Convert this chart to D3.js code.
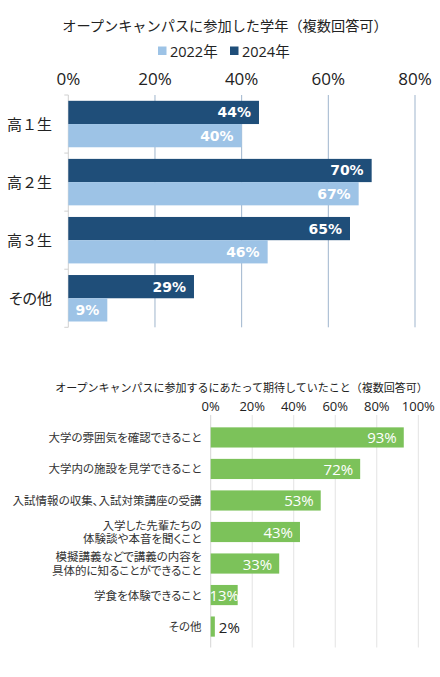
<!DOCTYPE html>
<html><head><meta charset="utf-8">
<script src="https://cdn.jsdelivr.net/npm/d3@7"></script>
<style>
body{margin:0;background:#fff;}
svg text{font-family:"Open Sans","Noto Sans CJK JP",sans-serif;}
.jp{font-feature-settings:"palt";}
</style></head>
<body>
<script>
// ---- Chart 1 data ----
const gradeCats = ["高１生", "高２生", "高３生", "その他"];
const seriesNames = ["2022年", "2024年"];
const values2022 = [40, 67, 46, 9];
const values2024 = [44, 70, 65, 29];
const ticks1 = [0, 20, 40, 60, 80];
const title1 = "オープンキャンパスに参加した学年（複数回答可）";

// ---- Chart 2 data ----
const expectCats = [
  ["大学の雰囲気を確認できること"],
  ["大学内の施設を見学できること"],
  ["入試情報の収集、入試対策講座の受講"],
  ["入学した先輩たちの", "体験談や本音を聞くこと"],
  ["模擬講義などで講義の内容を", "具体的に知ることができること"],
  ["学食を体験できること"],
  ["その他"]
];
const expectValues = [93, 72, 53, 43, 33, 13, 2];
const ticks2 = [0, 20, 40, 60, 80, 100];
const title2 = "オープンキャンパスに参加するにあたって期待していたこと（複数回答可）";

const W = 440, H = 677;
const svg = d3.select("body").append("svg").attr("width", W).attr("height", H);

const dark = "#1f4e79", light = "#9dc3e6", green = "#7cc25a";

// ===== Chart 1 =====
svg.append("text").attr("x", 225).attr("y", 25).attr("text-anchor","middle")
  .attr("dominant-baseline","central").attr("font-size", 14.2).attr("fill","#222").text(title1);

// legend
const legend = svg.append("g");
const legItems = [{name: seriesNames[0], color: light, x: 158}, {name: seriesNames[1], color: dark, x: 230}];
legItems.forEach(d => {
  legend.append("rect").attr("x", d.x).attr("y", 46.5).attr("width", 8.5).attr("height", 8.5).attr("fill", d.color);
  legend.append("text").attr("x", d.x + 12).attr("y", 51).attr("dominant-baseline","central")
    .attr("font-size", 14.5).attr("fill","#222").text(d.name);
});

const x1 = d3.scaleLinear().domain([0, 80]).range([68.3, 415]);
const y1 = d3.scaleBand().domain(gradeCats).range([95, 327.3]).paddingInner(0.2).paddingOuter(0.1);
const sub = d3.scaleBand().domain(["2024","2022"]).range([0, y1.bandwidth()]);

// gridlines
svg.append("g").selectAll("line").data(ticks1.filter(t => t > 0)).join("line")
  .attr("x1", d => x1(d)).attr("x2", d => x1(d)).attr("y1", 95).attr("y2", 327.3)
  .attr("stroke", "#9fb5cd").attr("stroke-width", 1);

// top tick labels
svg.append("g").selectAll("text").data(ticks1).join("text")
  .attr("x", d => x1(d)).attr("y", 78).attr("text-anchor","middle").attr("dominant-baseline","central")
  .attr("font-size", 17).attr("fill","#222").text(d => d + "%");

// left axis
svg.append("line").attr("x1", x1(0)).attr("x2", x1(0)).attr("y1", 95).attr("y2", 327.3).attr("stroke","#d0d0d0");
const bounds = gradeCats.map(c => y1(c) - y1.step()*y1.paddingInner()/2 ).concat([327.3]);
bounds[0] = 95;
svg.append("g").selectAll("line").data(bounds).join("line")
  .attr("x1", x1(0) - 4).attr("x2", x1(0)).attr("y1", d => d).attr("y2", d => d).attr("stroke","#d0d0d0");

const rows1 = gradeCats.map((c, i) => ({cat: c, v22: values2022[i], v24: values2024[i]}));
const g1 = svg.append("g").selectAll("g").data(rows1).join("g").attr("transform", d => `translate(0,${y1(d.cat)})`);
[["2024","v24",dark],["2022","v22",light]].forEach(([k, f, col]) => {
  g1.append("rect").attr("x", x1(0)).attr("y", sub(k)).attr("width", d => x1(d[f]) - x1(0))
    .attr("height", sub.bandwidth()).attr("fill", col);
  g1.append("text").attr("x", d => x1(d[f]) - 8).attr("y", sub(k) + sub.bandwidth()/2)
    .attr("text-anchor","end").attr("dominant-baseline","central")
    .style("font-family","'DejaVu Sans',sans-serif").attr("font-weight","bold").attr("font-size", 14)
    .attr("fill","#fff").text(d => d[f] + "%");
});
svg.append("g").selectAll("text").data(gradeCats).join("text")
  .attr("class", d => /[０-９0-9]/.test(d) ? null : "jp")
  .attr("x", 52).attr("y", d => y1(d) + y1.bandwidth()/2).attr("text-anchor","end").attr("dominant-baseline","central")
  .attr("font-size", 15).attr("fill","#222").text(d => d);

// ===== Chart 2 =====
svg.append("text").attr("x", 241.5).attr("y", 387).attr("text-anchor","middle")
  .attr("dominant-baseline","central").attr("font-size", 11).attr("fill","#222").text(title2);

const x2 = d3.scaleLinear().domain([0, 100]).range([210.7, 418.3]);
const labels2 = expectCats.map(d => d.join(""));
const y2 = d3.scaleBand().domain(labels2).range([416, 648]).padding(0.36);

svg.append("g").selectAll("line").data(ticks2).join("line")
  .attr("x1", d => x2(d)).attr("x2", d => x2(d)).attr("y1", 415).attr("y2", 647.5)
  .attr("stroke", d => d === 0 ? "#d6d6d6" : "#e3e3e3").attr("stroke-width", 1);

svg.append("g").selectAll("text").data(ticks2).join("text")
  .attr("x", d => x2(d)).attr("y", 406).attr("text-anchor","middle").attr("dominant-baseline","central")
  .attr("font-size", 13).attr("fill","#222").text(d => d + "%");

const rows2 = labels2.map((c, i) => ({cat: c, lines: expectCats[i], v: expectValues[i]}));
const g2 = svg.append("g").selectAll("g").data(rows2).join("g").attr("transform", d => `translate(0,${y2(d.cat)})`);
g2.append("rect").attr("x", x2(0)).attr("y", 0).attr("width", d => x2(d.v) - x2(0)).attr("height", y2.bandwidth()).attr("fill", green);
g2.each(function(d){
  const g = d3.select(this);
  const bw = x2(d.v) - x2(0);
  const t = g.append("text").attr("y", y2.bandwidth()/2).attr("dominant-baseline","central")
    .attr("font-size", 15).text(d.v + "%");
  const tw = t.node().getComputedTextLength();
  if (bw < 10) {
    t.attr("x", x2(d.v) + 4).attr("fill", "#222");
  } else if (tw + 14 > bw) {
    t.attr("x", x2(0) + bw/2).attr("text-anchor","middle").attr("fill","#fff");
  } else {
    t.attr("x", x2(d.v) - 7).attr("text-anchor","end").attr("fill","#fff");
  }
  const n = d.lines.length, lh = 13.4;
  const lab = g.append("text").attr("class","jp").attr("text-anchor","end")
    .attr("font-size", 11.5).attr("fill","#333");
  d.lines.forEach((ln, j) => {
    lab.append("tspan").attr("x", 201.5).attr("y", y2.bandwidth()/2 + (j - (n-1)/2)*lh)
      .attr("dominant-baseline","central").text(ln);
  });
});
</script>
</body></html>
